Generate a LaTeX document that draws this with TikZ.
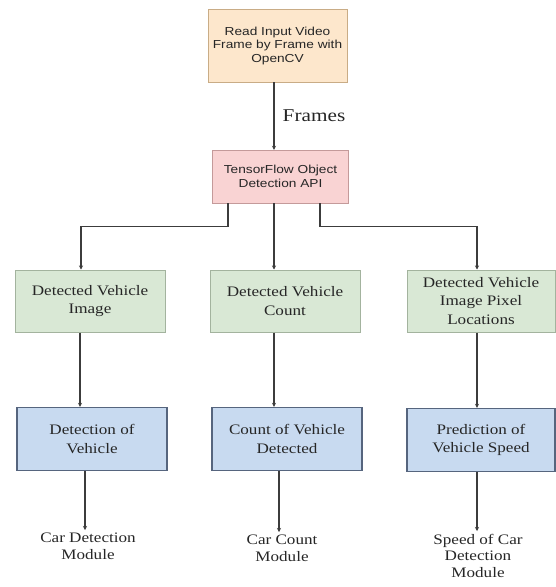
\documentclass[tikz,border=0pt]{standalone}
\usepackage{fontspec}
\setmainfont{Liberation Serif}
\newfontfamily\boxsans[FakeStretch=1.18]{Liberation Sans}
\newfontfamily\boxserif[FakeStretch=1.18]{Liberation Serif}
\usepackage{tikz}
\usetikzlibrary{positioning, arrows.meta}
\definecolor{srcfill}{HTML}{FDE7CC}
\definecolor{srcline}{HTML}{C9AC86}
\definecolor{apifill}{HTML}{F9D3D3}
\definecolor{apiline}{HTML}{C49A9A}
\definecolor{detfill}{HTML}{D9E8D5}
\definecolor{detline}{HTML}{A3B39E}
\definecolor{modfill}{HTML}{C8DAF0}
\definecolor{modline}{HTML}{56657E}
\definecolor{wire}{HTML}{3C3C3C}
\definecolor{ink}{HTML}{262626}

\begin{document}
\begin{tikzpicture}[x=1pt,y=-1pt,
  sansbox/.style={draw, align=center, inner sep=1pt, text=ink,
    font={\boxsans\fontsize{11.6}{13.5}\selectfont}},
  serifbox/.style={draw, align=center, inner sep=1pt, text=ink,
    minimum width=150pt, font={\boxserif\fontsize{14.5}{18.5}\selectfont}},
  detbox/.style={serifbox, fill=detfill, draw=detline, line width=1pt, minimum height=62pt},
  modbox/.style={serifbox, fill=modfill, draw=modline, line width=1.3pt, minimum height=63pt},
  outlbl/.style={align=center, inner xsep=0pt, inner ysep=3pt, anchor=north, text=ink,
    font={\boxserif\fontsize{14.5}{16.5}\selectfont}},
  arr/.style={draw=wire, line width=1.3pt, -{Stealth[length=4pt,width=4pt]}}]
\useasboundingbox[fill=white] (0,0) rectangle (555,587);

% --- input and detector ---
\node[sansbox, fill=srcfill, draw=srcline, minimum width=139pt, minimum height=73pt] (src) at (277.5,45.5) {Read Input Video\\Frame by Frame with\\OpenCV};
\node[sansbox, fill=apifill, draw=apiline, minimum width=136pt, minimum height=53pt] (api) at (280.5,176.5) {TensorFlow Object\\Detection API};
\node[font={\boxserif\fontsize{18}{20}\selectfont}, text=ink] (frm) at (314,116) {Frames};
\draw[arr] ([xshift=-3.5pt]src.south) -- ([xshift=-3.5pt]src.south |- api.north);

% --- detection outputs ---
\node[detbox] (gimg) at (90,301) {Detected Vehicle\\Image};
\node[detbox] (gcnt) at (285,301) {Detected Vehicle\\Count};
\node[detbox, minimum width=148pt] (gpix) at (481,301) {Detected Vehicle\\Image Pixel\\Locations};
\draw[arr] ([xshift=-52.5pt]api.south) -- ++(0,23.5) -| ([xshift=-9pt]gimg.north);
\draw[arr] ([xshift=-6.5pt]api.south) -- ([xshift=-6.5pt]api.south |- gcnt.north);
\draw[arr] ([xshift=39.5pt]api.south) -- ++(0,23.5) -| ([xshift=-4pt]gpix.north);

% --- processing ---
\node[modbox] (mdet) at (92,439) {Detection of\\Vehicle};
\node[modbox] (mcnt) at (287,439) {Count of Vehicle\\Detected};
\node[modbox, minimum width=148pt] (mspd) at (481,440) {Prediction of\\Vehicle Speed};
\draw[arr] ([xshift=-10pt]gimg.south) -- ([xshift=-10pt]gimg.south |- mdet.north);
\draw[arr] ([xshift=-11pt]gcnt.south) -- ([xshift=-11pt]gcnt.south |- mcnt.north);
\draw[arr] ([xshift=-4pt]gpix.south) -- ([xshift=-4pt]gpix.south |- mspd.north);

% --- modules ---
\node[outlbl] (ocar) at (88,530) {Car Detection\\Module};
\node[outlbl] (ocnt) at (282,532) {Car Count\\Module};
\node[outlbl] (ospd) at (478,531) {Speed of Car\\Detection\\Module};
\draw[arr] ([xshift=-7pt]mdet.south) -- ([xshift=-7pt]mdet.south |- ocar.north);
\draw[arr] ([xshift=-8pt]mcnt.south) -- ([xshift=-8pt]mcnt.south |- ocnt.north);
\draw[arr] ([xshift=-4pt]mspd.south) -- ([xshift=-4pt]mspd.south |- ospd.north);
\end{tikzpicture}
\end{document}
